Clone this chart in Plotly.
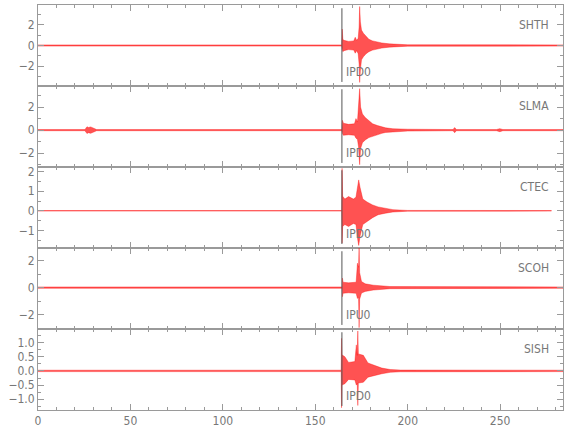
import plotly.graph_objects as go
from plotly.subplots import make_subplots

# ---------------- data ----------------
x_range = [0, 284]
stations = ["SHTH", "SLMA", "CTEC", "SCOH", "SISH"]
pick_labels = ["IPD0", "IPD0", "IPD0", "IPU0", "IPD0"]
pick_time = 164.4
y_ranges = [[-3.95, 3.95], [-3.2, 3.83], [-1.9, 2.24], [-3.05, 2.92], [-1.38, 1.48]]
y_dticks = [2, 2, 1, 2, 0.5]
y_minor = [1, 1, 0.5, 1, 0.25]
y_formats = ["", "", "", "", ".1f"]

# envelope of each trace (time in s, upper and lower amplitude)
shth_t = [0, 164.3, 164.6, 164.9, 165.5, 168, 170.8, 171.6, 172.4, 173.2, 173.7, 174.0,
          174.4, 175.0, 176.0, 177.5, 179, 181, 183, 186, 190, 195, 200, 284]
shth_up = [0.06, 0.06, 1.6, 0.6, 0.5, 0.4, 0.45, 0.8, 0.5, 0.7, 1.8, 3.8,
           2.3, 1.5, 1.2, 0.9, 0.6, 0.45, 0.35, 0.25, 0.16, 0.1, 0.07, 0.06]
shth_lo = [-0.06, -0.06, -0.4, -0.6, -0.5, -0.4, -0.45, -0.75, -0.5, -0.8, -1.8, -3.6,
           -2.4, -1.4, -1.1, -0.8, -0.6, -0.45, -0.35, -0.25, -0.16, -0.1, -0.07, -0.06]

slma_t = [0, 25.4, 26.5, 27.2, 28.5, 30.5, 31.7, 164.4, 164.7, 165.2, 168, 171.2, 172.0, 172.8,
          173.4, 174.0, 174.5, 175.5, 177, 179, 181, 183.6, 186, 188, 192, 200,
          224.5, 225.4, 226.3, 248, 249.8, 251.5, 284]
slma_up = [0.05, 0.05, 0.3, 0.22, 0.28, 0.12, 0.05, 0.05, 0.85, 0.6, 0.5, 0.55, 1.0, 0.7,
           2.0, 3.6, 2.0, 1.4, 1.1, 0.8, 0.55, 0.4, 0.28, 0.2, 0.12, 0.08,
           0.05, 0.22, 0.05, 0.05, 0.13, 0.05, 0.05]
slma_lo = [-0.05, -0.05, -0.3, -0.22, -0.28, -0.12, -0.05, -0.05, -0.3, -0.45, -0.4, -0.45, -0.7, -0.8,
           -1.45, -3.0, -1.6, -1.1, -0.85, -0.65, -0.5, -0.4, -0.28, -0.2, -0.12, -0.08,
           -0.05, -0.22, -0.05, -0.05, -0.13, -0.05, -0.05]

ctec_t = [0, 164.3, 164.5, 164.8, 166, 168, 170.6, 172, 173.0, 173.5, 174.2, 175.7,
          178, 181, 184, 188, 192, 195.5, 200, 277.7]
ctec_up = [0.015, 0.015, 2.17, 0.75, 0.6, 0.73, 0.6, 0.7, 1.3, 1.58, 1.2, 0.6,
           0.45, 0.3, 0.2, 0.12, 0.06, 0.04, 0.02, 0.015]
ctec_lo = [-0.015, -0.015, -1.65, -0.8, -0.7, -0.8, -0.65, -0.7, -1.5, -1.77, -1.3, -0.7,
           -0.55, -0.35, -0.2, -0.12, -0.06, -0.04, -0.02, -0.015]

scoh_t = [0, 164.5, 164.7, 165.0, 168, 172.1, 172.8, 173.4, 173.7, 174.0, 175.0,
          177, 181.4, 185, 190.4, 284]
scoh_up = [0.05, 0.05, 0.7, 0.4, 0.35, 0.4, 1.8, 1.5, 2.95, 1.1, 0.45,
           0.28, 0.18, 0.12, 0.08, 0.05]
scoh_lo = [-0.05, -0.05, -0.67, -0.42, -0.38, -0.42, -0.8, -0.7, -2.95, -0.85, -0.4,
           -0.28, -0.18, -0.12, -0.08, -0.05]

sish_t = [0, 164.0, 164.2, 164.4, 166, 168, 171.4, 172.2, 172.7, 173.0, 173.3, 176,
          178.5, 181.5, 186, 190.5, 196, 284]
sish_up = [0.025, 0.025, 1.15, 0.57, 0.5, 0.3, 0.33, 0.92, 0.55, 1.41, 0.6, 0.55,
           0.28, 0.2, 0.1, 0.05, 0.03, 0.025]
sish_lo = [-0.025, -0.025, -1.3, -0.5, -0.45, -0.3, -0.32, -0.5, -0.45, -1.22, -0.43, -0.4,
           -0.22, -0.18, -0.1, -0.05, -0.03, -0.025]

traces = [
    (shth_t, shth_up, shth_lo),
    (slma_t, slma_up, slma_lo),
    (ctec_t, ctec_up, ctec_lo),
    (scoh_t, scoh_up, scoh_lo),
    (sish_t, sish_up, sish_lo),
]

# ---------------- figure ----------------
FONT = "Liberation Sans Narrow, DejaVu Sans Condensed, Arial Narrow, sans-serif"
AXIS = "#9a9a9a"
TXT = "#777777"

fig = make_subplots(rows=5, cols=1, shared_xaxes=True, vertical_spacing=0)

for i, (t, up, lo) in enumerate(traces):
    row = i + 1
    fig.add_trace(
        go.Scatter(
            x=list(t) + list(t)[::-1],
            y=list(up) + list(lo)[::-1],
            fill="toself",
            fillcolor="rgba(255,0,0,0.68)",
            line=dict(color="rgba(255,0,0,0.9)", width=0.4),
            mode="lines",
            hoverinfo="skip",
            showlegend=False,
        ),
        row=row, col=1,
    )
    xname = "x" if row == 1 else f"x{row}"
    yname = "y" if row == 1 else f"y{row}"
    # pick marker
    fig.add_shape(type="line", xref=xname, yref=f"{yname} domain",
                  x0=pick_time, x1=pick_time, y0=0.05, y1=0.96,
                  line=dict(color="#555555", width=1))
    fig.add_annotation(xref=xname, yref=f"{yname} domain", x=pick_time + 1.2, y=0.17,
                       text=pick_labels[i], showarrow=False, xanchor="left",
                       yanchor="middle", font=dict(family=FONT, size=12, color=TXT))
    # station name
    fig.add_annotation(xref=f"{xname} domain", yref=f"{yname} domain", x=0.978, y=0.75,
                       text=stations[i], showarrow=False, xanchor="right",
                       yanchor="middle", font=dict(family=FONT, size=12, color=TXT))

    fig.update_yaxes(
        row=row, col=1, range=y_ranges[i], dtick=y_dticks[i], tick0=0,
        tickformat=y_formats[i], showgrid=False, zeroline=False, automargin=False,
        showline=True, linecolor=AXIS, linewidth=1, mirror="ticks",
        ticks="inside", ticklen=6, tickcolor=AXIS,
        minor=dict(dtick=y_minor[i], tick0=0, ticks="inside", ticklen=3, tickcolor=AXIS),
        tickfont=dict(family=FONT, size=12, color=TXT),
    )
    fig.update_xaxes(
        row=row, col=1, range=x_range, dtick=50, tick0=0,
        showgrid=False, zeroline=False, automargin=False,
        showline=True, linecolor=AXIS, linewidth=1, mirror="ticks",
        ticks="inside", ticklen=6, tickcolor=AXIS,
        minor=dict(dtick=10, tick0=0, ticks="inside", ticklen=3, tickcolor=AXIS),
        showticklabels=(row == 5),
        tickfont=dict(family=FONT, size=12, color=TXT),
    )

fig.update_layout(
    width=580, height=440,
    margin=dict(l=38, r=17, t=5, b=30),
    paper_bgcolor="white", plot_bgcolor="white",
    showlegend=False,
)

fig.write_html("out.html", config={"displayModeBar": False},
               post_script="document.body.style.margin='0';")
